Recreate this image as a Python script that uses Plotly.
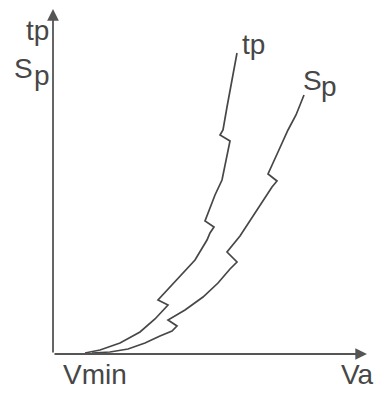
import plotly.graph_objects as go

# Schematic curves: V (horizontal, origin at V axis) vs value (vertical)
tp_v = [32, 47, 67, 87, 102, 110, 115, 105, 117, 130, 142, 154, 157, 161, 152,
        157, 162, 169, 172, 174, 177, 167, 170, 174, 179, 184]
tp_y = [1, 4, 11, 22, 35, 43, 49, 54, 67, 81, 94, 114, 121, 127, 133,
        146, 159, 174, 189, 201, 213, 219, 224, 247, 274, 301]

sp_v = [39, 57, 75, 92, 107, 119, 124, 115, 132, 150, 165, 177, 184, 174,
        187, 199, 209, 219, 224, 215, 225, 235, 243, 251]
sp_y = [1, 2, 5, 11, 18, 23, 28, 34, 44, 57, 71, 85, 92, 102,
        118, 136, 152, 167, 173, 180, 202, 224, 239, 259]

INK = "#474747"
FONT = "Liberation Sans, Arial, sans-serif"

fig = go.Figure()
fig.add_trace(go.Scatter(x=tp_v, y=tp_y, mode="lines",
                         line=dict(color=INK, width=1.7), hoverinfo="skip"))
fig.add_trace(go.Scatter(x=sp_v, y=sp_y, mode="lines",
                         line=dict(color=INK, width=1.7), hoverinfo="skip"))

annotations = []
# axes with arrowheads
annotations.append(dict(x=0, y=345, ax=0, ay=0, xref="x", yref="y", axref="x", ayref="y",
                        text="", showarrow=True, arrowhead=2, arrowsize=1.3,
                        arrowwidth=1.8, arrowcolor="#555"))
annotations.append(dict(x=314, y=0, ax=0, ay=0, xref="x", yref="y", axref="x", ayref="y",
                        text="", showarrow=True, arrowhead=2, arrowsize=1.3,
                        arrowwidth=1.8, arrowcolor="#555"))


def label(txt, x, y, size=28):
    annotations.append(dict(x=x, y=y, xref="x", yref="y", text=txt, showarrow=False,
                            xanchor="left", yanchor="middle",
                            font=dict(family=FONT, size=size, color=INK)))


# axis labels
label("tp", -29, 324)
label("S", -41, 286)
label("p", -21, 279)
label("Vmin", 8, -20)
label("Va", 286, -20)
# curve labels
label("tp", 187, 310)
label("S", 248, 274)
label("p", 266, 268)

fig.update_layout(
    width=374, height=394,
    margin=dict(l=0, r=0, t=0, b=0),
    paper_bgcolor="white", plot_bgcolor="white",
    showlegend=False,
    xaxis=dict(range=[-53, 321], visible=False, fixedrange=True),
    yaxis=dict(range=[-40, 354], visible=False, fixedrange=True),
    annotations=annotations,
)

fig.write_html("out.html", config={"displayModeBar": False},
               post_script="document.body.style.margin='0';document.body.style.overflow='hidden';")
